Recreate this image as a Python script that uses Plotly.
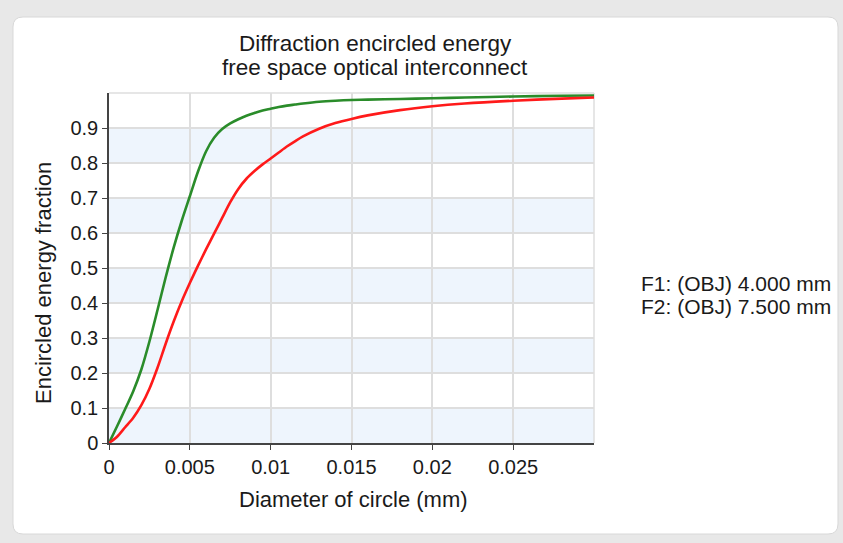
import plotly.graph_objects as go

# ---- data ----
diam_mm = [0, 0.0005, 0.001, 0.0015, 0.002, 0.0025, 0.003, 0.0035, 0.004, 0.0045,
           0.005, 0.0055, 0.006, 0.0065, 0.007, 0.0075, 0.008, 0.0085, 0.009, 0.0095,
           0.01, 0.0105, 0.011, 0.0115, 0.012, 0.013, 0.014, 0.015, 0.016, 0.018,
           0.02, 0.022, 0.025, 0.028, 0.03]

f1_energy = [0, 0.048, 0.097, 0.148, 0.21, 0.29, 0.38, 0.472, 0.558, 0.635,
             0.705, 0.775, 0.833, 0.872, 0.897, 0.913, 0.925, 0.935, 0.943, 0.95,
             0.955, 0.96, 0.964, 0.967, 0.97, 0.975, 0.978, 0.98, 0.981, 0.983,
             0.985, 0.987, 0.99, 0.992, 0.993]

f2_energy = [0, 0.018, 0.045, 0.072, 0.108, 0.155, 0.215, 0.283, 0.347, 0.405,
             0.457, 0.506, 0.553, 0.598, 0.643, 0.688, 0.726, 0.755, 0.777, 0.796,
             0.813, 0.83, 0.847, 0.862, 0.876, 0.898, 0.914, 0.926, 0.936, 0.951,
             0.962, 0.97, 0.978, 0.984, 0.987]

series_names = ["F1: (OBJ) 4.000 mm", "F2: (OBJ) 7.500 mm"]
series_colors = ["#2a8c2a", "#ff1a1a"]

x_ticks = [0, 0.005, 0.01, 0.015, 0.02, 0.025]
x_tick_labels = ["0", "0.005", "0.01", "0.015", "0.02", "0.025"]
y_ticks = [0, 0.1, 0.2, 0.3, 0.4, 0.5, 0.6, 0.7, 0.8, 0.9]
y_tick_labels = ["0", "0.1", "0.2", "0.3", "0.4", "0.5", "0.6", "0.7", "0.8", "0.9"]
band_starts = [0, 0.2, 0.4, 0.6, 0.8]

title_lines = ["Diffraction encircled energy", "free space optical interconnect"]
x_title = "Diameter of circle (mm)"
y_title = "Encircled energy fraction"

# ---- layout geometry ----
W, H = 843, 543
L, R, T, B = 109, 594, 93, 443  # plot area in px
FONT = "Liberation Sans, Arial, Helvetica, sans-serif"
TXT = "#1a1a1a"


def px2x(px):
    return (px - L) / (R - L)


def px2y(py):
    return (B - py) / (B - T)


fig = go.Figure()
for ys, name, col in zip([f1_energy, f2_energy], series_names, series_colors):
    fig.add_trace(go.Scatter(x=diam_mm, y=ys, mode="lines", name=name,
                             line=dict(color=col, width=2.6, shape="spline", smoothing=0.8),
                             showlegend=False, hoverinfo="x+y"))

shapes = []
# card (rounded rectangle)
cx0, cy0, cx1, cy1, r = 13, 17, 838, 534, 10
def P(px, py):
    return f"{px2x(px):.5f},{px2y(py):.5f}"
path = (f"M {P(cx0 + r, cy0)} L {P(cx1 - r, cy0)} Q {P(cx1, cy0)} {P(cx1, cy0 + r)} "
        f"L {P(cx1, cy1 - r)} Q {P(cx1, cy1)} {P(cx1 - r, cy1)} "
        f"L {P(cx0 + r, cy1)} Q {P(cx0, cy1)} {P(cx0, cy1 - r)} "
        f"L {P(cx0, cy0 + r)} Q {P(cx0, cy0)} {P(cx0 + r, cy0)} Z")
shapes.append(dict(type="path", xref="paper", yref="paper", path=path,
                   fillcolor="white", line=dict(color="#d8d8d8", width=1), layer="below"))
# alternating bands
for b0 in band_starts:
    shapes.append(dict(type="rect", xref="x domain", yref="y", x0=0, x1=1, y0=b0, y1=b0 + 0.1,
                       fillcolor="#eef5fd", line=dict(width=0), layer="below"))
# light frame on top and right
shapes.append(dict(type="line", xref="paper", yref="paper", x0=0, x1=1, y0=1, y1=1,
                   line=dict(color="#dedede", width=1.5), layer="below"))
shapes.append(dict(type="line", xref="paper", yref="paper", x0=1, x1=1, y0=0, y1=1,
                   line=dict(color="#dedede", width=1.5), layer="below"))

annotations = []
for i, line in enumerate(title_lines):
    annotations.append(dict(text=line, xref="paper", yref="paper",
                            x=px2x(375), y=px2y(43 + 24 * i), xanchor="center", yanchor="middle",
                            showarrow=False, font=dict(size=22.5, color=TXT, family=FONT)))
annotations += [
    dict(text=x_title, xref="paper", yref="paper", x=px2x(353), y=px2y(499),
         xanchor="center", yanchor="middle", showarrow=False,
         font=dict(size=22, color=TXT, family=FONT)),
    dict(text=y_title, xref="paper", yref="paper", x=px2x(43), y=px2y(283),
         xanchor="center", yanchor="middle", showarrow=False, textangle=-90,
         font=dict(size=22, color=TXT, family=FONT)),
]
for i, name in enumerate(series_names):
    annotations.append(dict(text=name, xref="paper", yref="paper", x=px2x(639),
                            y=px2y(283 + 23 * i), xanchor="left", yanchor="middle",
                            showarrow=False, font=dict(size=21, color=TXT, family=FONT)))

axis_common = dict(showgrid=True, gridcolor="#dedede", gridwidth=1.5, zeroline=False,
                   showline=True, linecolor="#444444", linewidth=1.5, mirror=False,
                   ticks="outside", ticklen=5, tickcolor="#444444", tickwidth=1,
                   tickfont=dict(size=20, color=TXT, family=FONT), fixedrange=True)

fig.update_layout(
    width=W, height=H,
    margin=dict(l=L, r=W - R, t=T, b=H - B, pad=0),
    paper_bgcolor="#e8e8e8", plot_bgcolor="rgba(0,0,0,0)",
    font=dict(family=FONT, size=20, color=TXT),
    shapes=shapes, annotations=annotations, showlegend=False,
    xaxis=dict(range=[0, 0.03], tickvals=x_ticks, ticktext=x_tick_labels, **axis_common),
    yaxis=dict(range=[0, 1.0], tickvals=y_ticks, ticktext=y_tick_labels, **axis_common),
)

fig.write_html("out.html")
